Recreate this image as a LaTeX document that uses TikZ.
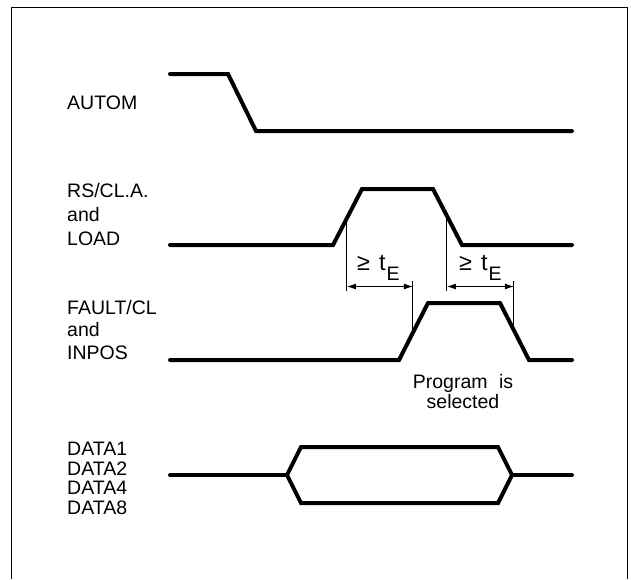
\documentclass[tikz,border=0pt]{standalone}
\usepackage{fontspec}
\setmainfont{Liberation Sans}
\usetikzlibrary{arrows.meta,positioning,calc}
\tikzset{
  wave/.style     = {line width=4pt, line cap=round, line join=miter},
  dimline/.style  = {line width=1pt},
  dimarrow/.style = {{Latex[length=9pt,width=6pt]}-{Latex[length=9pt,width=6pt]}, line width=1pt},
  siglabel/.style = {anchor=base west, inner sep=0pt, align=left},
  telabel/.style  = {anchor=base west, inner sep=0pt},
}
\newcommand{\tesym}{{\fontsize{23.5}{24}\selectfont ≥\hspace{9pt}t}\kern1pt\raisebox{-10pt}{E}}

\begin{document}
\begin{tikzpicture}[x=1pt,y=-1pt,font=\fontsize{19.5}{24}\selectfont]
\useasboundingbox (0,0) rectangle (631,579);
\draw[line width=1pt] (11.5,579) -- (11.5,7.5) -- (627.5,7.5) -- (627.5,579);
\node[siglabel] (autom) at (67,109.5) {AUTOM};
\node[siglabel] (rs) at (67,245) {RS/CL.A.\\[0pt]and\\[0pt]LOAD};
\node[siglabel] (fault) at (67,359) {FAULT/CL\\[-1.5pt]and\\[-1.5pt]INPOS};
\node[siglabel] (data) at (67,514) {DATA1\\[-4.5pt]DATA2\\[-4.5pt]DATA4\\[-4.5pt]DATA8};
\coordinate (a1) at (228,74);  \coordinate (a2) at (256,131);
\coordinate (r1) at (333,245); \coordinate (r2) at (362,189);
\coordinate (r3) at (433,189); \coordinate (r4) at (462,245);
\coordinate (f1) at (399,360); \coordinate (f2) at (428,303);
\coordinate (f3) at (500,303); \coordinate (f4) at (529,360);
\draw[wave] (170,74) -- (a1) -- (a2) -- (572,131);
\draw[wave] (170,245) -- (r1) -- (r2) -- (r3) -- (r4) -- (572,245);
\draw[wave] (170,360) -- (f1) -- (f2) -- (f3) -- (f4) -- (572,360);
\coordinate (bl) at (287,475); \coordinate (br) at (512,475);
\draw[wave] (170,475) -- (bl);
\draw[wave] (bl) -- (301,447) -- (498,447) -- (br) -- (498,503) -- (301,503) -- cycle;
\draw[wave] (br) -- (572,475);
\coordinate (d1) at ($(r1)!0.48!(r2)$);
\coordinate (d2) at ($(f1)!0.48!(f2)$);
\coordinate (d3) at ($(r3)!0.48!(r4)$);
\coordinate (d4) at ($(f3)!0.48!(f4)$);
\coordinate (dimlow) at (0,291);
\coordinate (dimhigh) at (0,281);
\coordinate (dimy) at (0,286.5);
\draw[dimline] (d1) -- (d1 |- dimlow);
\draw[dimline] (d2 |- dimhigh) -- (d2);
\draw[dimline] (d3) -- (d3 |- dimlow);
\draw[dimline] (d4 |- dimhigh) -- (d4);
\draw[dimarrow] (d1 |- dimy) -- (d2 |- dimy);
\draw[dimarrow] (d3 |- dimy) -- (d4 |- dimy);
\node[telabel] (te1) at (357,270) {\tesym};
\node[telabel] (te2) at (459,270) {\tesym};
\node[anchor=base, inner sep=0pt, align=center] (prog) at (463,408)
  {Program\hspace{6pt} is\\[-4pt]selected};
\end{tikzpicture}
\end{document}
